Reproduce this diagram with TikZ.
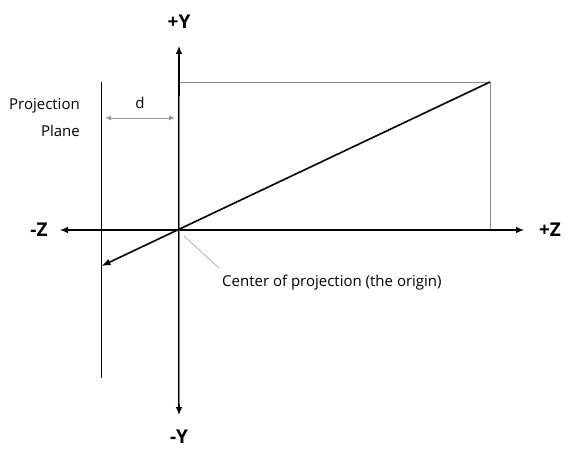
\documentclass[tikz,border=0pt]{standalone}
\usepackage{fontspec}
\setmainfont{Open Sans}
\usetikzlibrary{arrows.meta}
\begin{document}
\begin{tikzpicture}[x=1pt,y=-1pt,
  tip/.style={{Latex[length=8pt,width=6.5pt]}-{Latex[length=8pt,width=6.5pt]}},
  guide/.style={draw=black!45,line width=0.8pt},
  lbl/.style={font=\fontsize{15}{17}\selectfont,inner sep=0pt},
  axlbl/.style={font=\fontsize{19}{21}\selectfont\bfseries,inner sep=0pt}]
\useasboundingbox (0,0) rectangle (580,460);
% coordinates
\coordinate (ytop) at (179,46);
\coordinate (ybot) at (179,415);
\coordinate (zl) at (60,230);
\coordinate (zr) at (524,230);
\coordinate (pt) at (490,82);
\coordinate (rtl) at (179,82);
\coordinate (rbr) at (490,230);
\coordinate (pl1) at (101.5,82);
\coordinate (pl2) at (101.5,378);
\coordinate (proj) at (101.5,266);
\coordinate (d1) at (105,118);
\coordinate (d2) at (175,118);
\coordinate (lead1) at (184,236);
\coordinate (lead2) at (219,268);
\coordinate (yg1) at (179,96);
\coordinate (yg2) at (179,404);
% guide rectangle
\draw[guide] (rtl) -- (pt) -- (rbr);
% axes
\draw[line width=1.1pt,tip] (zl) -- (zr);
\draw[line width=1.1pt,tip] (ytop) -- (ybot);
\draw[draw=black!50,line width=1pt] (yg1) -- (yg2);
% projection plane
\draw[line width=1.1pt] (pl1) -- (pl2);
% projector line
\draw[line width=1.6pt,-{Latex[length=9pt,width=7pt]}] (pt) -- (proj);
% d dimension
\draw[draw=black!40,line width=1pt,{Latex[length=6pt,width=5pt]}-{Latex[length=6pt,width=5pt]}] (d1) -- (d2);
\node[lbl] (dl) at (140,103) {d};
% leader
\draw[draw=black!30,line width=0.8pt] (lead1) -- (lead2);
\node[lbl,anchor=west] (cop) at (222,283) {Center of projection (the origin)};
% labels
\node[lbl,anchor=east] (pp1) at (80,106) {Projection};
\node[lbl,anchor=east] (pp2) at (80,131) {Plane};
\node[axlbl] (yp) at (179,22) {+Y};
\node[axlbl] (ym) at (179,437) {-Y};
\node[axlbl] (zm) at (39,230) {-Z};
\node[axlbl] (zp) at (550,230) {+Z};
\end{tikzpicture}
\end{document}
